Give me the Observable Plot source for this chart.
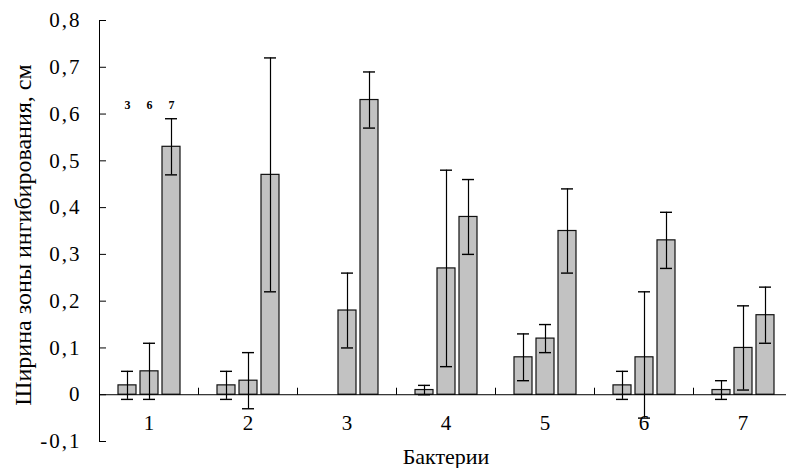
<!DOCTYPE html>
<html>
<head>
<meta charset="utf-8">
<script src="https://cdn.jsdelivr.net/npm/d3@7"></script>
<script src="https://cdn.jsdelivr.net/npm/@observablehq/plot@0.6"></script>
<style>
  html, body { margin: 0; padding: 0; background: #fff; overflow: hidden; }
  #chart svg { overflow: hidden; }
  #chart svg, #chart svg text { font-family: "Liberation Serif", "Times New Roman", serif !important; }
  #chart g[aria-label="y-axis tick label"] text { letter-spacing: 2px; }
</style>
</head>
<body>
<div id="chart"></div>
<script>
// Categories (bacteria) and series (3, 6, 7)
const categories = ["1", "2", "3", "4", "5", "6", "7"];
const series = ["3", "6", "7"];

// Series "3"
const mean3 = [0.02, 0.02, 0.00, 0.01, 0.08, 0.02, 0.01];
const low3  = [-0.01, -0.01, null, 0.00, 0.03, -0.01, -0.01];
const high3 = [0.05, 0.05, null, 0.02, 0.13, 0.05, 0.03];

// Series "6"
const mean6 = [0.05, 0.03, 0.18, 0.27, 0.12, 0.08, 0.10];
const low6  = [-0.01, -0.03, 0.10, 0.06, 0.09, -0.05, 0.01];
const high6 = [0.11, 0.09, 0.26, 0.48, 0.15, 0.22, 0.19];

// Series "7"
const mean7 = [0.53, 0.47, 0.63, 0.38, 0.35, 0.33, 0.17];
const low7  = [0.47, 0.22, 0.57, 0.30, 0.26, 0.27, 0.11];
const high7 = [0.59, 0.72, 0.69, 0.46, 0.44, 0.39, 0.23];

const yTicks = [-0.1, 0, 0.1, 0.2, 0.3, 0.4, 0.5, 0.6, 0.7, 0.8];
const seriesLabelLevel = 0.62; // where the "3 6 7" key sits over group 1
const yTitle = "Ширина зоны ингибирования, см";
const xTitle = "Бактерии";

const means = {"3": mean3, "6": mean6, "7": mean7};
const lows = {"3": low3, "6": low6, "7": low7};
const highs = {"3": high3, "6": high6, "7": high7};

const rows = [];
for (const s of series) {
  categories.forEach((c, i) => {
    rows.push({cat: c, s, v: means[s][i], lo: lows[s][i], hi: highs[s][i]});
  });
}
const errRows = rows.filter(d => d.lo != null && d.hi != null);
const keyRows = series.map(s => ({cat: categories[0], s, y: seriesLabelLevel}));

const font = "'Liberation Serif', 'Times New Roman', serif";
const tickUp = {draw(ctx) { ctx.moveTo(0, 0); ctx.lineTo(0, -7); }};

const chart = Plot.plot({
  width: 786,
  height: 468,
  marginTop: 20,
  marginBottom: 27,
  marginLeft: 97,
  marginRight: -8,
  style: {fontFamily: font, fontSize: "20px", color: "#000", background: "#fff", overflow: "hidden"},
  fx: {domain: categories, padding: 0, axis: null},
  x: {domain: series, paddingInner: 0.2, paddingOuter: 0.82, axis: null},
  y: {domain: [-0.1, 0.8], axis: null},
  marks: [
    Plot.frame({anchor: "left", facetAnchor: "left", stroke: "#000", strokeWidth: 1}),
    Plot.barY(rows, {fx: "cat", x: "s", y: "v", fill: "#c2c2c2", stroke: "#111", strokeWidth: 1.2}),
    Plot.ruleY([0], {stroke: "#000", strokeWidth: 1}),
    Plot.dot(categories, {fx: d => d, y: () => 0, frameAnchor: "left", symbol: tickUp, r: 4, stroke: "#000", fill: "none", strokeWidth: 1}),
    Plot.text(categories, {fx: d => d, text: d => d, frameAnchor: "bottom", lineAnchor: "middle", dy: -18, fontSize: 21, fill: "#000"}),
    Plot.text(keyRows, {fx: "cat", x: "s", y: "y", text: "s", fontSize: 12, fontWeight: "bold", fill: "#000"}),
    Plot.ruleX(errRows, {fx: "cat", x: "s", y1: "lo", y2: "hi", stroke: "#000", strokeWidth: 1.2}),
    Plot.tickY(errRows, {fx: "cat", x: "s", y: "lo", stroke: "#000", strokeWidth: 1.4, insetLeft: 3, insetRight: 3}),
    Plot.tickY(errRows, {fx: "cat", x: "s", y: "hi", stroke: "#000", strokeWidth: 1.4, insetLeft: 3, insetRight: 3}),
    Plot.axisY({
      anchor: "left", ticks: yTicks, tickSize: -7, tickPadding: 25,
      tickFormat: d => d === 0 ? "0" : d.toFixed(1).replace(".", ","),
      fontSize: 21, stroke: "#000", fill: "#000", label: null
    }),
    Plot.text([yTitle], {fx: () => categories[0], text: d => d, frameAnchor: "left", textAnchor: "middle", lineAnchor: "middle", rotate: -90, dx: -76, dy: 4, fontSize: 24, fill: "#000"}),
    Plot.axisFx({anchor: "bottom", ticks: [], label: xTitle, labelAnchor: "center", labelOffset: 22, fontSize: 22, fill: "#000"})
  ]
});
document.getElementById("chart").appendChild(chart);
</script>
</body>
</html>
